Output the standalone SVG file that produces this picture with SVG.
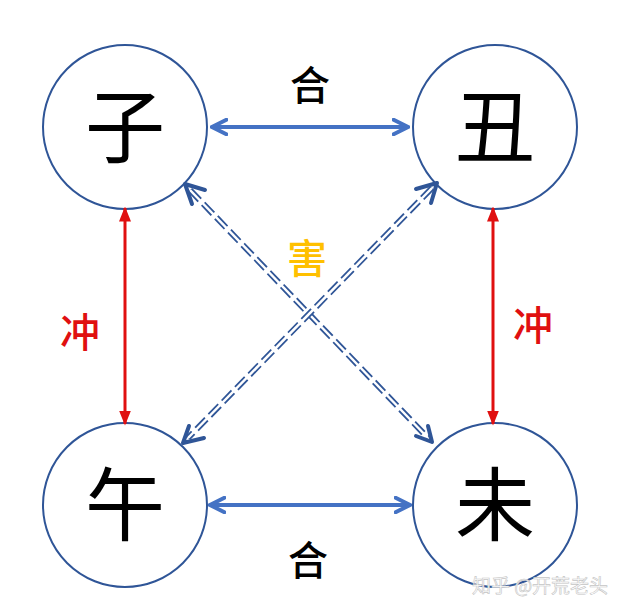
<svg xmlns="http://www.w3.org/2000/svg" width="630" height="614" viewBox="0 0 630 614">
<style>
.c{fill:#fff;stroke:#2F5597;stroke-width:2}
.big{font-family:"Noto Sans CJK SC",sans-serif;font-size:80px;text-anchor:middle;fill:#000}
.lb{font-family:"Noto Sans CJK SC",sans-serif;font-size:40px;font-weight:500;text-anchor:middle}
.blue{stroke:#4472C4;stroke-width:4;fill:none}
.red{stroke:#E01010;stroke-width:3;fill:none}
.dO{stroke:#2F5597;stroke-width:6;stroke-dasharray:14 5;fill:none}
.dI{stroke:#fff;stroke-width:2.5;fill:none}
.hd{stroke:#2F5597;stroke-width:4;fill:none;stroke-linecap:round;stroke-linejoin:round}
</style>
<defs>
<marker id="ab" viewBox="0 0 10 10" refX="9" refY="5" markerWidth="4.5" markerHeight="4.5" orient="auto-start-reverse"><path d="M1,1 L9,5 L1,9" fill="none" stroke="#4472C4" stroke-width="2.2" stroke-linecap="round"/></marker>
<marker id="ar" viewBox="0 0 10 10" refX="9" refY="5" markerWidth="5" markerHeight="5" orient="auto-start-reverse"><path d="M0,1 L10,5 L0,9 z" fill="#E01010"/></marker>
</defs>
<g id="n1"><circle class="c" cx="125" cy="127" r="82"/><text class="big" x="125" y="156">子</text></g>
<g id="n2"><circle class="c" cx="495" cy="127" r="82"/><text class="big" x="495" y="156">丑</text></g>
<g id="n3"><circle class="c" cx="125" cy="505" r="82"/><text class="big" x="125" y="534">午</text></g>
<g id="n4"><circle class="c" cx="495" cy="505" r="82"/><text class="big" x="495" y="534">未</text></g>
<g id="connectors">
<line class="blue" x1="212" y1="127" x2="408" y2="127" marker-start="url(#ab)" marker-end="url(#ab)"/>
<line class="blue" x1="210" y1="505" x2="410" y2="505" marker-start="url(#ab)" marker-end="url(#ab)"/>
<line class="red" x1="125" y1="208" x2="125" y2="424" marker-start="url(#ar)" marker-end="url(#ar)"/>
<line class="red" x1="493" y1="208" x2="493" y2="424" marker-start="url(#ar)" marker-end="url(#ar)"/>
<line class="dO" x1="190" y1="190" x2="428" y2="438"/><line class="dI" x1="190" y1="190" x2="428" y2="438"/>
<line class="dO" x1="432" y1="188" x2="188" y2="438"/><line class="dI" x1="432" y1="188" x2="188" y2="438"/>
<path class="hd" d="M192,204 L185,184 L205,190"/>
<path class="hd" d="M416,436 L432,442 L428,426"/>
<path class="hd" d="M416,189 L437,183 L431,203"/>
<path class="hd" d="M204,438 L183,443 L189,426"/>
</g>
<text class="lb" x="310" y="100" fill="#000">合</text>
<text class="lb" x="308" y="575" fill="#000">合</text>
<text class="lb" x="80" y="347" fill="#E01010">冲</text>
<text class="lb" x="533" y="340" fill="#E01010">冲</text>
<text class="lb" x="307" y="273" fill="#FFC000">害</text>
<text x="540" y="593" font-family="Noto Sans CJK SC,sans-serif" font-size="19" fill="#fff" stroke="#c4c4c4" stroke-width="0.6" text-anchor="middle">知乎 @开荒老头</text>
</svg>
